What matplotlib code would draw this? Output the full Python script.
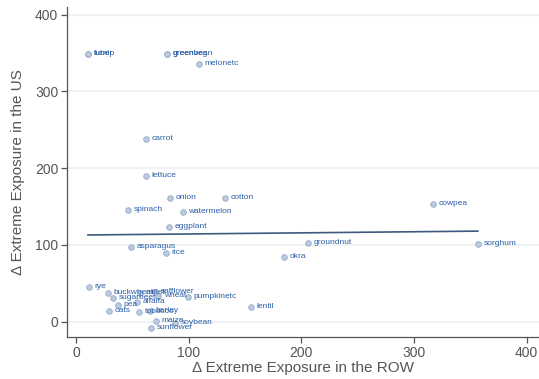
import numpy as np
import matplotlib
matplotlib.use("Agg")
import matplotlib.pyplot as plt

plt.rcParams['font.family'] = ['Liberation Sans', 'DejaVu Sans']

crops = ["tuber", "turnip", "greenveg", "greenbean", "melonetc", "carrot", "lettuce",
         "onion", "cotton", "spinach", "watermelon", "eggplant", "asparagus", "rice",
         "groundnut", "okra", "cowpea", "sorghum", "rye", "buckwheat", "sugarbeet",
         "pea", "oats", "alfalfa", "tobacco", "barley", "maize", "soybean", "sunflower",
         "pumpkinetc", "lentil", "millet", "safflower", "wheat"]
row_exposure = [10.6, 10.8, 80.7, 81.0, 109.1, 62.1, 62.1,
                83.4, 132.2, 46.1, 94.9, 82.5, 48.8, 79.9,
                205.9, 184.6, 316.8, 356.7, 11.5, 28.4, 32.8,
                37.3, 29.3, 54.1, 55.9, 65.7, 71.0, 87.8, 66.5,
                99.4, 155.3, 56.8, 70.0, 72.8]
us_exposure = [349, 349, 349, 349, 336, 238.1, 189.8,
               161.2, 161.2, 145.6, 143.0, 123.5, 97.4, 89.6,
               102.6, 84.4, 153.5, 101.3, 45.2, 37.4, 30.9,
               21.8, 14.0, 25.7, 12.6, 14.0, 1.0, -1.7, -8.2,
               32.2, 19.2, 37.8, 39.0, 33.5]
# linear fit line as drawn in the reference
fit_intercept = 112.8
fit_slope = 0.0145
xticks = [0, 100, 200, 300, 400]
yticks = [0, 100, 200, 300, 400]

x = np.array(row_exposure)
y = np.array(us_exposure)

fig = plt.figure(figsize=(5.39, 3.79), dpi=100)
ax = fig.add_axes([67.3/539, 1 - 337/379, (539 - 67.3)/539, (337 - 7)/379])

for t in yticks:
    ax.axhline(t, color='#eef4f5', lw=1.5, zorder=0)

xf = np.array([x.min(), x.max()])
ax.plot(xf, fit_intercept + fit_slope * xf, color='#3d5a7e', lw=1.2, zorder=2)

ax.scatter(x, y, s=16, facecolor='#bccbe0', edgecolor='#93a8c8', linewidth=0.6, zorder=3)
for name, xi, yi in zip(crops, x, y):
    ax.annotate(name, (xi, yi), xytext=(4, 0), textcoords='offset points',
                va='center', ha='left', fontsize=6, color='#2b5ea6', zorder=4)

ax.set_xlim(-7.7, 411)
ax.set_ylim(-20, 410)
ax.set_xticks(xticks)
ax.set_yticks(yticks)
for s in ['top', 'right']:
    ax.spines[s].set_visible(False)
for s in ['left', 'bottom']:
    ax.spines[s].set_color('#555555')
    ax.spines[s].set_linewidth(0.9)
ax.tick_params(axis='both', colors='#555555', labelcolor='#555555', labelsize=10,
               length=4, width=0.9, direction='out', pad=2.5)
ax.set_xlabel('Δ Extreme Exposure in the ROW', fontsize=11, color='#555555', labelpad=1)
ax.set_ylabel('Δ Extreme Exposure in the US', fontsize=11, color='#555555', labelpad=7)

fig.savefig('out.png', dpi=100)
